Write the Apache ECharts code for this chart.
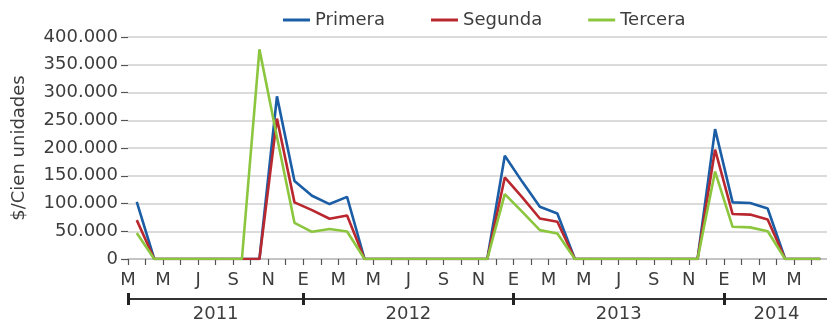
<!DOCTYPE html>
<html>
<head>
<meta charset="utf-8">
<script src="https://cdn.jsdelivr.net/npm/echarts@6/dist/echarts.min.js"></script>
<style>
  html, body { margin: 0; padding: 0; background: #fff; }
  #chart { width: 827px; height: 322px; }
</style>
</head>
<body>
<div id="chart"></div>
<script>
// Monthly categories (Mar 2011 - Jun 2014)
const categories = [
  '2011-03','2011-04','2011-05','2011-06','2011-07','2011-08','2011-09','2011-10','2011-11','2011-12',
  '2012-01','2012-02','2012-03','2012-04','2012-05','2012-06','2012-07','2012-08','2012-09','2012-10','2012-11','2012-12',
  '2013-01','2013-02','2013-03','2013-04','2013-05','2013-06','2013-07','2013-08','2013-09','2013-10','2013-11','2013-12',
  '2014-01','2014-02','2014-03','2014-04','2014-05','2014-06'
];
const endBoundary = '2014-07';
const monthInitials = ['E','F','M','A','M','J','J','A','S','O','N','D'];

const primera = [
  103000, 0, 0, 0, 0, 0, 0, 0, 293000, 140600,
  114000, 99000, 112000, 0, 0, 0, 0, 0, 0, 0, 0, 186000,
  139000, 94000, 82000, 0, 0, 0, 0, 0, 0, 0, 0, 234000,
  102000, 101000, 91000, 0, 0, 0
];
const segunda = [
  70000, 0, 0, 0, 0, 0, 0, 0, 253000, 102000,
  88000, 72500, 78500, 0, 0, 0, 0, 0, 0, 0, 0, 147000,
  111000, 73000, 67000, 0, 0, 0, 0, 0, 0, 0, 0, 197000,
  81000, 80000, 71000, 0, 0, 0
];
const tercera = [
  47000, 0, 0, 0, 0, 0, 0, 377700, 220000, 65200,
  49000, 54000, 49500, 0, 0, 0, 0, 0, 0, 0, 0, 117000,
  85000, 52000, 46000, 0, 0, 0, 0, 0, 0, 0, 0, 157500,
  58000, 57000, 50000, 0, 0, 0
];
const seriesNames = ['Primera', 'Segunda', 'Tercera'];
const yTicks = { min: 0, max: 400000, step: 50000 };

// Boundaries between months (start of each month + end)
const boundaries = categories.concat([endBoundary]);
const boundaryLetters = boundaries.map(k => monthInitials[parseInt(k.slice(5), 10) - 1]);
const lastIdx = boundaries.length - 1;
const yearStartIdx = boundaries.map((k, i) => (i === 0 || (k.slice(5) === '01' && i < lastIdx)) ? i : -1).filter(i => i >= 0);
const yearLabelAt = {};
yearStartIdx.forEach((s, j) => {
  const e = j + 1 < yearStartIdx.length ? yearStartIdx[j + 1] : lastIdx;
  yearLabelAt[Math.round((s + e) / 2)] = boundaries[s].slice(0, 4);
});

const FONT = 'DejaVu Sans';
const TXT = '#3d3d3d';
const colors = ['#1b5ea6', '#b8282e', '#8cc63f'];

const chart = echarts.init(document.getElementById('chart'), null, { renderer: 'canvas' });
const fmt = v => v === 0 ? '0' : String(v).replace(/\B(?=(\d{3})+(?!\d))/g, '.');

chart.setOption({
  animation: false,
  color: colors,
  textStyle: { fontFamily: FONT },
  grid: { left: 128, right: -2, top: 37, bottom: 63, containLabel: false, outerBoundsMode: 'none' },
  legend: {
    data: seriesNames,
    left: 283, top: 11, padding: 0,
    icon: 'rect', itemWidth: 27, itemHeight: 3, itemGap: 46,
    textStyle: { fontFamily: FONT, fontSize: 18, color: TXT }
  },
  xAxis: [
    { type: 'category', data: categories, boundaryGap: true, show: false },
    {
      type: 'category', data: boundaryLetters, boundaryGap: false, position: 'bottom',
      axisLine: { show: true, lineStyle: { color: '#bdbdbd', width: 1.5 } },
      axisTick: { show: true, interval: 0, length: 6, lineStyle: { color: '#555', width: 1.2 } },
      axisLabel: { interval: (i) => i % 2 === 0 && i < lastIdx, fontFamily: FONT, fontSize: 18, color: TXT, margin: 12 },
      splitLine: { show: false }
    },
    {
      type: 'category', data: boundaries, boundaryGap: false, position: 'bottom', offset: 40,
      axisLine: { show: true, lineStyle: { color: '#333', width: 2 } },
      axisTick: { show: true, length: 6, interval: (i) => yearStartIdx.indexOf(i) >= 0, lineStyle: { color: '#222', width: 3 } },
      axisLabel: { interval: (i) => yearLabelAt[i] !== undefined, formatter: (v, i) => yearLabelAt[i] || '', fontFamily: FONT, fontSize: 18, color: TXT, margin: 6 },
      splitLine: { show: false }
    },
    {
      type: 'category', data: boundaries, boundaryGap: false, position: 'bottom', offset: 40,
      axisLine: { show: false },
      axisTick: { show: true, inside: true, length: 6, interval: (i) => yearStartIdx.indexOf(i) >= 0, lineStyle: { color: '#222', width: 3 } },
      axisLabel: { show: false },
      splitLine: { show: false }
    }
  ],
  yAxis: {
    type: 'value', min: yTicks.min, max: yTicks.max, interval: yTicks.step,
    name: '$/Cien unidades', nameLocation: 'middle', nameGap: 100,
    nameTextStyle: { fontFamily: FONT, fontSize: 18, color: TXT },
    axisLine: { show: false },
    axisTick: { show: true, length: 7, lineStyle: { color: '#555', width: 1.2 } },
    axisLabel: { formatter: fmt, fontFamily: FONT, fontSize: 18, color: TXT, margin: 10 },
    splitLine: { show: true, lineStyle: { color: '#cfcfcf', width: 1.5 } }
  },
  series: [
    { name: seriesNames[0], type: 'line', data: primera, xAxisIndex: 0, symbol: 'none', lineStyle: { width: 2.6, color: colors[0] } },
    { name: seriesNames[1], type: 'line', data: segunda, xAxisIndex: 0, symbol: 'none', lineStyle: { width: 2.6, color: colors[1] } },
    { name: seriesNames[2], type: 'line', data: tercera, xAxisIndex: 0, symbol: 'none', lineStyle: { width: 2.6, color: colors[2] } }
  ]
});
</script>
</body>
</html>
